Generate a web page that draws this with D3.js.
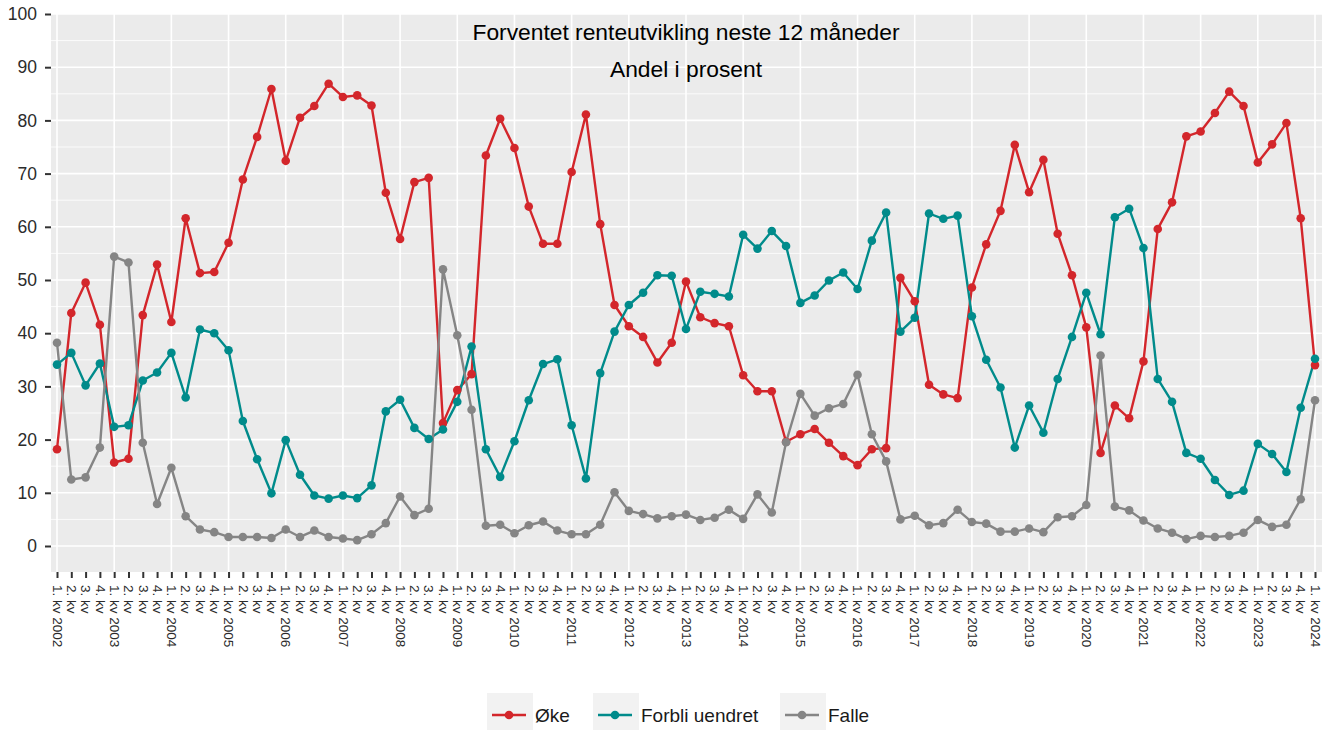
<!DOCTYPE html>
<html>
<head>
<meta charset="utf-8">
<script src="https://cdn.jsdelivr.net/npm/d3@7"></script>
<style>
  html, body { margin: 0; padding: 0; background: #ffffff; }
  svg { display: block; font-family: "Liberation Sans", Arial, Helvetica, sans-serif; }
</style>
</head>
<body>
<svg id="chart" width="1332" height="730"></svg>
<script>
// Quarter categories 1. kv 2002 – 1. kv 2024
const years = [2002, 2003, 2004, 2005, 2006, 2007, 2008, 2009, 2010, 2011, 2012,
               2013, 2014, 2015, 2016, 2017, 2018, 2019, 2020, 2021, 2022, 2023, 2024];
const quarterNames = ["1. kv", "2. kv", "3. kv", "4. kv"];

// Share (%) expecting interest rates to rise
const oke = [18.2, 43.8, 49.5, 41.6, 15.7, 16.4, 43.4, 52.9, 42.1, 61.6, 51.3, 51.5, 57.0, 68.9, 76.9, 85.9,
             72.4, 80.5, 82.7, 86.9, 84.4, 84.7, 82.8, 66.4, 57.7, 68.4, 69.2, 23.1, 29.3, 32.3, 73.4, 80.3,
             74.8, 63.8, 56.8, 56.8, 70.3, 81.1, 60.5, 45.3, 41.3, 39.3, 34.5, 38.2, 49.7, 43.0, 41.9, 41.3,
             32.1, 29.1, 29.1, 19.6, 21.0, 22.0, 19.4, 16.9, 15.2, 18.2, 18.4, 50.4, 46.0, 30.3, 28.5, 27.8,
             48.6, 56.7, 63.0, 75.4, 66.5, 72.6, 58.7, 50.9, 41.1, 17.5, 26.4, 24.0, 34.7, 59.6, 64.6, 77.0,
             77.9, 81.4, 85.4, 82.7, 72.1, 75.5, 79.5, 61.6, 34.0];

// Share (%) expecting rates to stay unchanged
const forbli = [34.1, 36.3, 30.2, 34.3, 22.4, 22.7, 31.1, 32.6, 36.3, 27.9, 40.7, 40.0, 36.8, 23.5, 16.3, 9.9,
                19.9, 13.4, 9.5, 8.9, 9.5, 9.0, 11.4, 25.3, 27.5, 22.2, 20.1, 21.9, 27.1, 37.5, 18.2, 13.0,
                19.7, 27.4, 34.2, 35.1, 22.7, 12.7, 32.5, 40.3, 45.3, 47.6, 50.9, 50.8, 40.8, 47.8, 47.4, 46.9,
                58.5, 55.9, 59.2, 56.4, 45.7, 47.1, 49.9, 51.4, 48.3, 57.4, 62.7, 40.3, 42.9, 62.5, 61.5, 62.1,
                43.2, 35.0, 29.8, 18.5, 26.4, 21.3, 31.4, 39.3, 47.6, 39.8, 61.8, 63.4, 56.0, 31.4, 27.1, 17.5,
                16.4, 12.4, 9.6, 10.4, 19.2, 17.3, 13.9, 26.0, 35.2];

// Share (%) expecting rates to fall
const falle = [38.2, 12.5, 12.9, 18.5, 54.4, 53.3, 19.4, 7.9, 14.7, 5.6, 3.1, 2.6, 1.7, 1.7, 1.7, 1.5,
               3.1, 1.7, 2.9, 1.7, 1.4, 1.1, 2.2, 4.3, 9.3, 5.8, 7.0, 52.0, 39.6, 25.6, 3.8, 4.0,
               2.4, 3.9, 4.6, 2.9, 2.2, 2.2, 4.0, 10.1, 6.6, 6.0, 5.2, 5.6, 5.9, 4.9, 5.3, 6.8,
               5.1, 9.7, 6.3, 19.5, 28.6, 24.5, 25.9, 26.7, 32.2, 21.0, 15.9, 5.0, 5.7, 3.9, 4.3, 6.8,
               4.5, 4.2, 2.7, 2.7, 3.3, 2.6, 5.4, 5.6, 7.7, 35.8, 7.4, 6.7, 4.8, 3.3, 2.5, 1.3,
               1.9, 1.7, 1.9, 2.5, 4.9, 3.6, 4.0, 8.8, 27.4];

const yTicks = [0, 10, 20, 30, 40, 50, 60, 70, 80, 90, 100];
const seriesNames = ["Øke", "Forbli uendret", "Falle"];
const seriesColors = ["#d3262b", "#008b8b", "#858585"];
const titleLines = ["Forventet renteutvikling neste 12 måneder", "Andel i prosent"];

// Build the quarter labels (year shown on each 1. kv)
const quarters = [];
years.forEach(y => quarterNames.forEach((q, i) => {
  if (y === 2024 && i > 0) return;
  quarters.push({ key: y + "Q" + (i + 1), label: i === 0 ? q + " " + y : q, q: i });
}));

const series = [oke, forbli, falle].map((vals, s) => ({
  name: seriesNames[s],
  color: seriesColors[s],
  values: vals.map((v, i) => ({ key: quarters[i].key, v }))
}));

const svg = d3.select("#chart");
const panel = { left: 51, right: 1322, top: 14, bottom: 572 };

const x = d3.scalePoint()
  .domain(quarters.map(d => d.key))
  .range([57, 1315]);

const y = d3.scaleLinear()
  .domain([0, 100])
  .range([546, 14]);

// Panel background
svg.append("rect")
  .attr("x", panel.left).attr("y", panel.top)
  .attr("width", panel.right - panel.left)
  .attr("height", panel.bottom - panel.top)
  .attr("fill", "#ebebeb");

const grid = svg.append("g");
// Minor horizontal grid
grid.selectAll("line.minor")
  .data(d3.range(5, 100, 10))
  .join("line")
  .attr("x1", panel.left).attr("x2", panel.right)
  .attr("y1", d => y(d)).attr("y2", d => y(d))
  .attr("stroke", "#ffffff").attr("stroke-width", 0.8);
// Major horizontal grid
grid.selectAll("line.major")
  .data(yTicks)
  .join("line")
  .attr("x1", panel.left).attr("x2", panel.right)
  .attr("y1", d => y(d)).attr("y2", d => y(d))
  .attr("stroke", "#ffffff").attr("stroke-width", 1.6);
// Vertical grid at each year's first quarter
grid.selectAll("line.vert")
  .data(quarters.filter(d => d.q === 0))
  .join("line")
  .attr("x1", d => x(d.key)).attr("x2", d => x(d.key))
  .attr("y1", panel.top).attr("y2", panel.bottom)
  .attr("stroke", "#ffffff").attr("stroke-width", 1.6);

// Y axis
const yAxis = svg.append("g")
  .attr("transform", `translate(${panel.left},0)`)
  .call(d3.axisLeft(y).tickValues(yTicks).tickSize(6).tickPadding(8));
yAxis.select(".domain").remove();
yAxis.selectAll(".tick line").attr("stroke", "#333333").attr("stroke-width", 2);
yAxis.selectAll(".tick text")
  .attr("fill", "#2b2b2b")
  .style("font-size", "17.5px")
  .style("font-family", "'Liberation Sans', Arial, sans-serif");

// X axis
const labelOf = new Map(quarters.map(d => [d.key, d.label]));
const xAxis = svg.append("g")
  .attr("transform", `translate(0,${panel.bottom})`)
  .call(d3.axisBottom(x).tickFormat(k => labelOf.get(k)).tickSize(6).tickPadding(4));
xAxis.select(".domain").remove();
xAxis.selectAll(".tick line").attr("stroke", "#333333").attr("stroke-width", 2);
xAxis.selectAll(".tick text")
  .attr("fill", "#2b2b2b")
  .style("font-size", "13.5px")
  .style("font-family", "'Liberation Sans', Arial, sans-serif")
  .attr("transform", "rotate(90)")
  .attr("text-anchor", "start")
  .attr("dy", "0.35em")
  .attr("x", 13)
  .attr("y", 0);

// Lines
const line = d3.line().x(d => x(d.key)).y(d => y(d.v));
const plot = svg.append("g");
plot.selectAll("path.series")
  .data(series)
  .join("path")
  .attr("d", d => line(d.values))
  .attr("fill", "none")
  .attr("stroke", d => d.color)
  .attr("stroke-width", 2.4)
  .attr("stroke-linejoin", "round");

// Points
series.forEach(s => {
  plot.append("g").selectAll("circle")
    .data(s.values)
    .join("circle")
    .attr("cx", d => x(d.key))
    .attr("cy", d => y(d.v))
    .attr("r", 4.3)
    .attr("fill", s.color);
});

// Title inside the panel
svg.append("g").selectAll("text")
  .data(titleLines)
  .join("text")
  .attr("x", 686)
  .attr("y", (d, i) => 40 + i * 37)
  .attr("text-anchor", "middle")
  .attr("fill", "#000000")
  .style("font-size", "22.8px")
  .text(d => d);

// Legend
const legendX = [487, 593, 780];
const legend = svg.append("g");
series.forEach((s, i) => {
  const g = legend.append("g").attr("transform", `translate(${legendX[i]},693)`);
  g.append("rect").attr("x", 0).attr("y", 0).attr("width", 46).attr("height", 37).attr("fill", "#f2f2f2");
  g.append("line").attr("x1", 5).attr("x2", 39).attr("y1", 22).attr("y2", 22)
    .attr("stroke", s.color).attr("stroke-width", 2.4);
  g.append("circle").attr("cx", 22).attr("cy", 22).attr("r", 4.3).attr("fill", s.color);
  g.append("text").attr("x", 48).attr("y", 29)
    .attr("fill", "#1a1a1a").style("font-size", "19px").text(s.name);
});
</script>
</body>
</html>
